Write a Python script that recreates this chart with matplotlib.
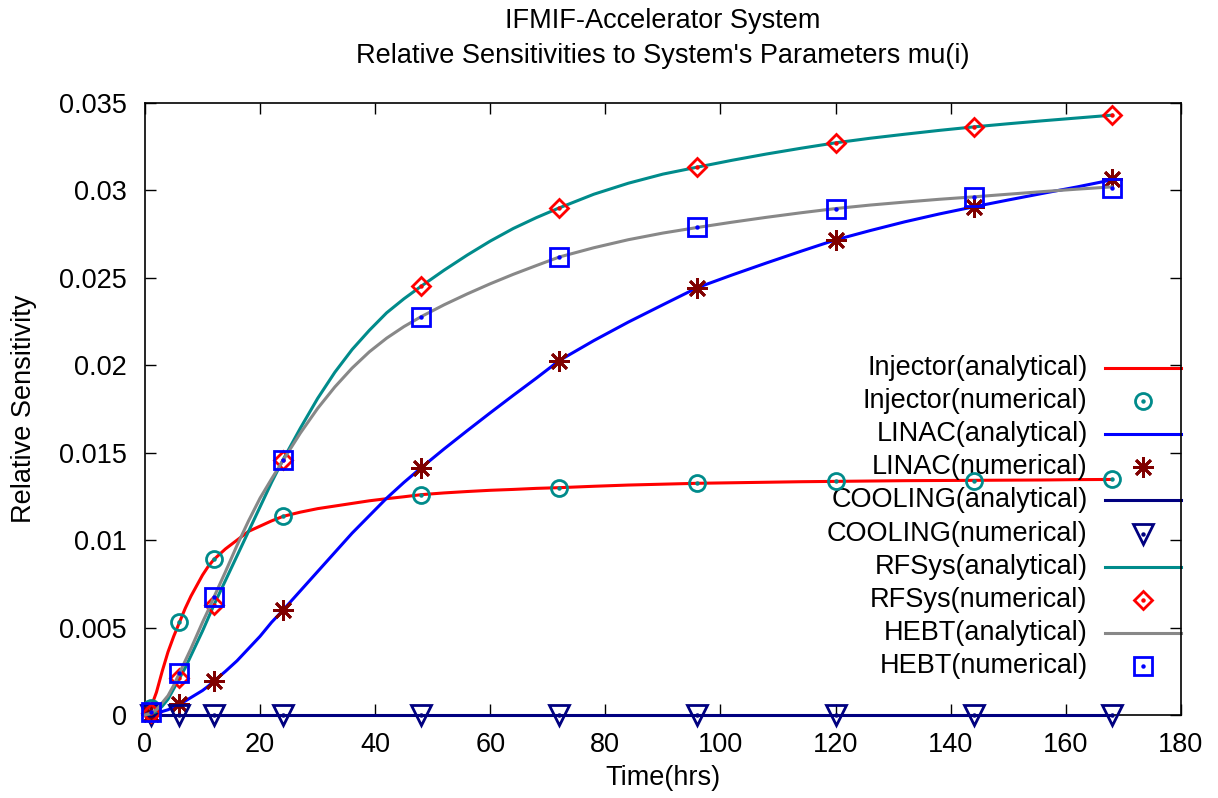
import matplotlib
matplotlib.use("Agg")
import matplotlib.pyplot as plt
from matplotlib.ticker import MultipleLocator, FuncFormatter

plt.rcParams['font.family'] = ['Liberation Sans', 'DejaVu Sans']

# sample times (hrs)
t_num = [1, 6, 12, 24, 48, 72, 96, 120, 144, 168]
t_ana = [0, 1, 2, 3, 4, 5, 6, 7, 8, 9, 10, 11, 12, 14, 16, 18, 20, 22, 24,
         27, 30, 33, 36, 39, 42, 45, 48, 52, 56, 60, 64, 68, 72, 78, 84, 90, 96,
         102, 108, 114, 120, 126, 132, 138, 144, 150, 156, 162, 168]

# analytical curves
inj_ana = [0, 0.0004, 0.0013, 0.0025, 0.0036, 0.0045, 0.0053, 0.0061, 0.0068, 0.0074,
           0.0080, 0.0085, 0.0089, 0.0095, 0.0100, 0.0105, 0.0108, 0.0111, 0.01136,
           0.0116, 0.0118, 0.01195, 0.0121, 0.01225, 0.01237, 0.01248, 0.0126,
           0.0127, 0.01278, 0.01285, 0.0129, 0.01296, 0.0130, 0.01308, 0.01315,
           0.0132, 0.01325, 0.01328, 0.01331, 0.01334, 0.01336, 0.01338, 0.0134,
           0.01341, 0.01342, 0.01343, 0.01344, 0.01346, 0.01347]
linac_ana = [0, 0.00003, 0.0001, 0.0002, 0.0003, 0.00045, 0.00063, 0.0008, 0.0010, 0.0012,
             0.0014, 0.00165, 0.00194, 0.0025, 0.0031, 0.0038, 0.0045, 0.0053, 0.0060,
             0.0071, 0.0082, 0.0093, 0.0104, 0.0114, 0.0124, 0.0133, 0.01414,
             0.01522, 0.01626, 0.01728, 0.01828, 0.01926, 0.02027, 0.02141, 0.02247,
             0.02346, 0.02444, 0.02516, 0.02585, 0.02652, 0.02717, 0.0277, 0.0282,
             0.02865, 0.02906, 0.02945, 0.02983, 0.0302, 0.0306]
cool_ana = [0.0] * len(t_ana)
rf_ana = [0, 0.00005, 0.0002, 0.0005, 0.0009, 0.0015, 0.0021, 0.0027, 0.0034, 0.0041,
          0.0048, 0.00555, 0.0063, 0.0077, 0.0091, 0.0105, 0.0119, 0.0133, 0.0146,
          0.0164, 0.0181, 0.0196, 0.0209, 0.0220, 0.0230, 0.0238, 0.02452,
          0.02544, 0.0263, 0.0271, 0.02782, 0.02844, 0.0290, 0.02978, 0.03041,
          0.03093, 0.03133, 0.03172, 0.03208, 0.03241, 0.03272, 0.03298, 0.03321,
          0.03343, 0.03363, 0.03381, 0.03398, 0.03414, 0.0343]
hebt_ana = [0, 0.0001, 0.0003, 0.0007, 0.0011, 0.0017, 0.0024, 0.0031, 0.0038, 0.00455,
            0.0053, 0.0060, 0.00675, 0.0082, 0.0097, 0.0111, 0.0124, 0.0135, 0.01456,
            0.01612, 0.01753, 0.01876, 0.01984, 0.02077, 0.02155, 0.02221, 0.02278,
            0.02346, 0.02408, 0.02466, 0.0252, 0.0257, 0.02619, 0.02672, 0.02718,
            0.02756, 0.02788, 0.02818, 0.02846, 0.02872, 0.02896, 0.02916, 0.02933,
            0.02949, 0.02963, 0.02978, 0.02993, 0.03007, 0.0302]

# numerical results
inj_num = [0.0004, 0.0053, 0.0089, 0.01136, 0.0126, 0.0130, 0.01325, 0.01336, 0.0134, 0.01347]
linac_num = [0.00003, 0.00063, 0.00194, 0.0060, 0.01414, 0.02027, 0.02444, 0.02717, 0.02906, 0.03066]
cool_num = [0.0] * len(t_num)
rf_num = [0.0001, 0.0021, 0.0063, 0.0146, 0.02452, 0.02898, 0.03133, 0.03272, 0.03363, 0.0343]
hebt_num = [0.0002, 0.0024, 0.00675, 0.01456, 0.02278, 0.02619, 0.02788, 0.02896, 0.02963, 0.03012]

names = ['Injector', 'LINAC', 'COOLING', 'RFSys', 'HEBT']
ana_data = [inj_ana, linac_ana, cool_ana, rf_ana, hebt_ana]
num_data = [inj_num, linac_num, cool_num, rf_num, hebt_num]
line_colors = ['#ff0000', '#0000ff', '#000080', '#008b8b', '#888888']
mark_colors = ['#008b8b', '#800000', '#000080', '#ff0000', '#0000ff']
markers = ['o', (8, 2, 0), 'v', 'D', 's']
msizes = [11.5, 15, 14, 9.5, 12.5]

fig = plt.figure(figsize=(12.18, 7.98), dpi=100)
ax = fig.add_axes([0.119, 0.104, 0.8505, 0.767])

# legend geometry (axes fraction)
leg_text_x = 0.910
leg_line = (0.927, 1.0)
leg_mark_x = 0.963
leg_y0 = 0.567
leg_dy = 0.0541

row = 0
for i in range(len(names)):
    lc, mc = line_colors[i], mark_colors[i]
    ax.plot(t_ana, ana_data[i], color=lc, lw=2.2, clip_on=False,
            solid_joinstyle='round', zorder=3 + 2 * i)
    ax.plot(t_num, num_data[i], linestyle='none', marker=markers[i], ms=msizes[i],
            mfc='none', mec=mc, mew=2.0, clip_on=False, zorder=4 + 2 * i)
    if i != 1:
        ax.plot(t_num, num_data[i], linestyle='none', marker='o', ms=2.2, mfc=mc,
                mec=mc, clip_on=False, zorder=4 + 2 * i)

    # legend rows: analytical then numerical
    y = leg_y0 - row * leg_dy
    ax.text(leg_text_x, y, names[i] + '(analytical)', transform=ax.transAxes,
            ha='right', va='center', fontsize=19.5)
    ax.plot(leg_line, [y, y], color=lc, lw=2.2, transform=ax.transAxes, clip_on=False)
    row += 1
    y = leg_y0 - row * leg_dy
    ax.text(leg_text_x, y, names[i] + '(numerical)', transform=ax.transAxes,
            ha='right', va='center', fontsize=19.5)
    ax.plot([leg_mark_x], [y], marker=markers[i], ms=msizes[i], mfc='none', mec=mc,
            mew=2.0, transform=ax.transAxes, clip_on=False)
    if i != 1:
        ax.plot([leg_mark_x], [y], marker='o', ms=2.2, mfc=mc, mec=mc,
                transform=ax.transAxes, clip_on=False)
    row += 1

ax.set_xlim(0, 180)
ax.set_ylim(0, 0.035)
ax.xaxis.set_major_locator(MultipleLocator(20))
ax.yaxis.set_major_locator(MultipleLocator(0.005))
ax.yaxis.set_major_formatter(FuncFormatter(lambda v, p: '%g' % round(v, 6)))
ax.tick_params(direction='in', top=True, right=True, length=8, width=1,
               labelsize=19.5)
ax.tick_params(axis='x', pad=12)
ax.tick_params(axis='y', pad=13)
for s in ax.spines.values():
    s.set_linewidth(1.2)

ax.set_xlabel('Time(hrs)', fontsize=19.5, labelpad=5)
ax.set_ylabel('Relative Sensitivity', fontsize=19.5, labelpad=16)
ax.set_title("IFMIF-Accelerator System\nRelative Sensitivities to System's Parameters mu(i)",
             fontsize=19.5, pad=29, linespacing=1.42)

fig.savefig('out.png', dpi=100)
